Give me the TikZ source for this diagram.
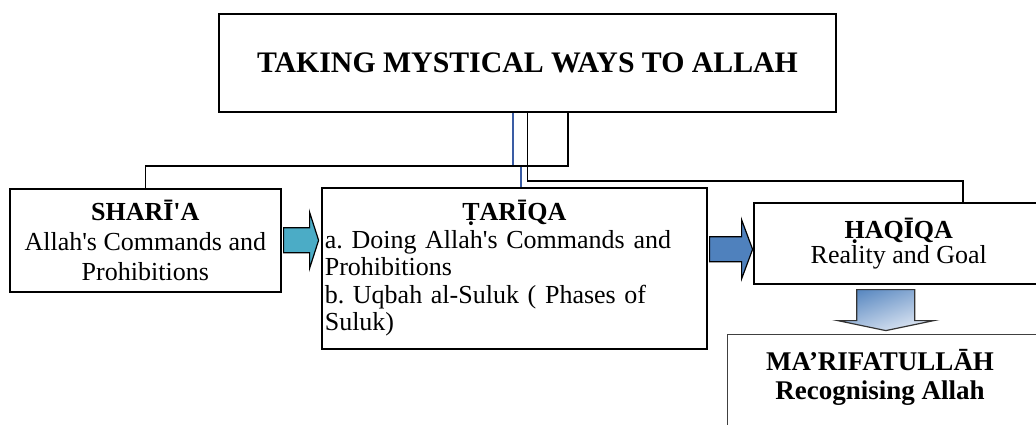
\documentclass[tikz,border=0pt]{standalone}
\usepackage{fontspec}
\setmainfont{Liberation Serif}
\frenchspacing
\definecolor{linkblue}{RGB}{58,92,164}
\definecolor{cyanfill}{RGB}{75,172,198}
\definecolor{bluefill}{RGB}{79,129,189}
\definecolor{palefill}{RGB}{224,232,244}
\newcommand{\sq}{\textquotesingle}

\begin{document}
\begin{tikzpicture}[x=1pt,y=-1pt,
  box/.style={draw, line width=1.6pt, inner sep=3pt, align=center, anchor=north west},
  body/.style={font=\fontsize{26}{30}\selectfont},
  link/.style={line width=1.5pt},
  blockarr/.style={draw=black, line width=1.2pt, line join=miter}]
  \useasboundingbox (0,0) rectangle (1036,424);
  % top box
  \node[box, anchor=center, minimum width=617pt, minimum height=98pt,
        font=\fontsize{29.8}{32}\selectfont\bfseries] (title) at (527.5,63) {TAKING MYSTICAL WAYS TO ALLAH};
  % stages
  \node[box, body, minimum width=271pt, minimum height=103pt] (sharia) at (9,188)
    {\textbf{SHARĪ\sq A}\\Allah\sq s Commands and\\Prohibitions};
  \node[box, body, align=left, text width=379pt, minimum width=385pt, minimum height=161pt,
        font=\fontsize{26}{27.5}\selectfont] (tariqa) at (321,187)
    {{\centering\textbf{ṬARĪQA}\par}\raggedright
     a. Doing Allah\sq s Commands and\\Prohibitions\\b. Uqbah al-Suluk ( Phases of\\Suluk)};
  \node[box, body, minimum width=290pt, minimum height=81pt,
        font=\fontsize{26}{25}\selectfont] (haqiqa) at (753,202)
    {\textbf{ḤAQĪQA}\\Reality and Goal};
  \node[box, draw=black!75, line width=1.3pt, minimum width=320pt, minimum height=110pt] (marifa) at (727,334) {};
  \node[align=center, font=\fontsize{27}{29}\selectfont\bfseries] (marifatext) at (880,377)
    {MA’RIFATULLĀH\\Recognising Allah};
  % connectors from the top box
  \draw[link, linkblue] ([xshift=-14.5pt]title.south) -- ++(0,53) -| ([xshift=6.5pt]tariqa.north);
  \draw[link] ([xshift=40.5pt]title.south) -- ++(0,53) -| (sharia.north);
  \draw[link] (title.south) -- ++(0,68) -| ([xshift=64pt]haqiqa.north);
  % block arrows
  \draw[blockarr, fill=cyanfill] ([xshift=2pt]sharia.east) ++(0,-12.5) -- ++(26,0) -- ++(0,-15.5)
    -- ++(9,28) -- ++(-9,28) -- ++(0,-15.5) -- ++(-26,0) -- cycle;
  \draw[blockarr, fill=bluefill] (tariqa.east |- haqiqa.west) ++(2,-6.5) -- ++(32,0) -- ++(0,-17)
    -- ++(11,29.5) -- ++(-11,29.5) -- ++(0,-17) -- ++(-32,0) -- cycle;
  \draw[blockarr, draw=black!80, top color=bluefill, bottom color=palefill, shading angle=20]
    (haqiqa.south) ++(-42,5) -- ++(58,0) -- ++(0,31) -- ++(19,0) -- ++(-48,10)
    -- ++(-48,-10) -- ++(19,0) -- cycle;
\end{tikzpicture}
\end{document}
